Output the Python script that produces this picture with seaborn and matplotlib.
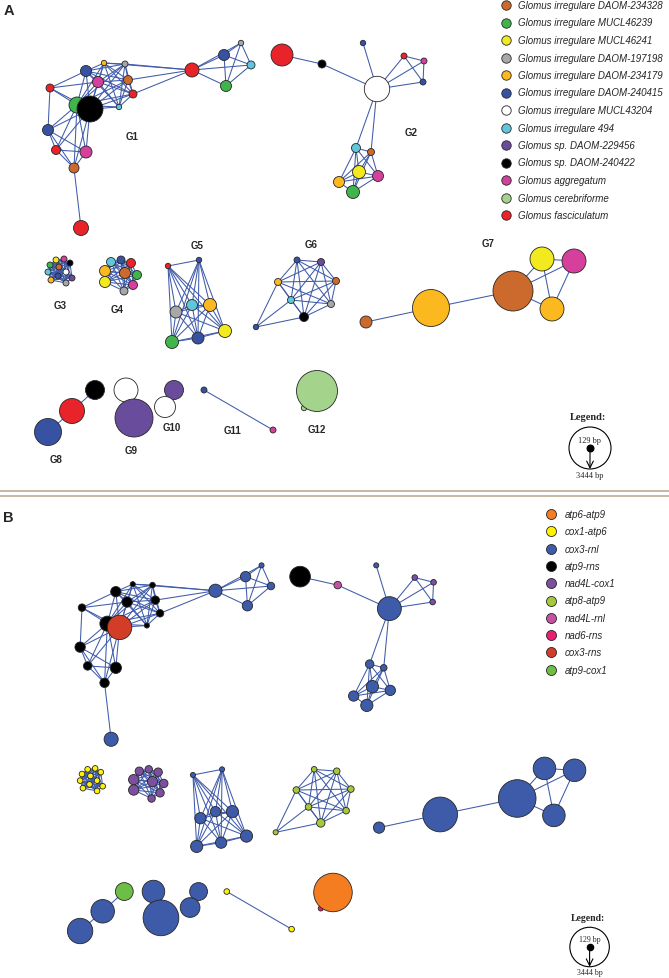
import numpy as np
import pandas as pd
import seaborn as sns
import matplotlib.pyplot as plt
from matplotlib.collections import LineCollection
from matplotlib.patches import Circle
from itertools import combinations

sns.set_theme(style='white')
plt.rcParams['font.family'] = ['Liberation Sans', 'DejaVu Sans']

# species (panel A colours)
species_keys = ['D234328', 'M46239', 'M46241', 'D197198', 'D234179', 'D240415', 'M43204',
                '494', 'D229456', 'D240422', 'agg', 'cer', 'fas']
species_labels = ['Glomus irregulare DAOM-234328', 'Glomus irregulare MUCL46239',
                  'Glomus irregulare MUCL46241', 'Glomus irregulare DAOM-197198',
                  'Glomus irregulare DAOM-234179', 'Glomus irregulare DAOM-240415',
                  'Glomus irregulare MUCL43204', 'Glomus irregulare 494',
                  'Glomus sp. DAOM-229456', 'Glomus sp. DAOM-240422',
                  'Glomus aggregatum', 'Glomus cerebriforme', 'Glomus fasciculatum']
species_colors = ['#CB6A2C', '#3FB54B', '#F2EA1E', '#A7A7A7', '#FBB81F', '#3852A3', '#FFFFFF',
                  '#5DC7DB', '#6A4C9C', '#000000', '#D63F9B', '#A4D38B', '#E8232A']

# intergenic regions (panel B colours)
region_labels = ['atp6-atp9', 'cox1-atp6', 'cox3-rnl', 'atp9-rns', 'nad4L-cox1',
                 'atp8-atp9', 'nad4L-rnl', 'nad6-rns', 'cox3-rns', 'atp9-cox1']
region_colors = ['#F47C21', '#FFF200', '#3D5BA9', '#000000', '#7D4F9F',
                 '#A5C93B', '#C751A1', '#EB1D73', '#D13D27', '#6CBE46']

# nodes, group by group (G1 .. G12)
node_x = [86, 104, 125, 98, 128, 133, 119, 50, 77, 90, 48, 56, 86, 74, 81, 192, 224, 241, 251, 226,
          282, 322, 377, 363, 404, 424, 423, 356, 371, 359, 378, 339, 353,
          56, 64, 70, 50, 59, 66, 48, 58, 72, 51, 66,
          111, 121, 131, 105, 125, 137, 105, 133, 124,
          168, 199, 192, 210, 176, 225, 198, 172,
          297, 321, 278, 336, 291, 331, 304, 256,
          366, 431, 513, 542, 574, 552,
          48, 72, 95,
          126, 134,
          174, 165,
          204, 273,
          304, 317]
node_y = [72, 64, 65, 83, 81, 95, 108, 89, 106, 110, 131, 151, 153, 169, 229, 71, 56, 44, 66, 87,
          56, 65, 90, 44, 57, 62, 83, 149, 153, 173, 177, 183, 193,
          261, 260, 264, 266, 268, 273, 273, 277, 279, 281, 284,
          263, 261, 264, 272, 274, 276, 283, 286, 292,
          267, 261, 306, 306, 313, 332, 339, 343,
          261, 263, 283, 282, 301, 305, 318, 328,
          323, 309, 292, 260, 262, 310,
          433, 412, 391,
          391, 419,
          391, 408,
          391, 431,
          409, 392]
node_bp = [636, 129, 183, 636, 455, 364, 129, 364, 1089, 1994, 636, 455, 727, 546, 998, 908, 636, 129, 364, 636,
           1632, 364, 1940, 129, 183, 183, 183, 455, 274, 817, 636, 636, 817,
           183, 183, 183, 183, 183, 183, 183, 183, 183, 183, 183,
           455, 364, 455, 636, 636, 455, 636, 455, 364,
           129, 129, 636, 817, 727, 817, 727, 817,
           183, 274, 274, 274, 274, 274, 455, 129,
           727, 2990, 3262, 1813, 1813, 1813,
           2085, 1904, 1360,
           1813, 3081,
           1360, 1541,
           183, 183,
           129, 3352]
node_species = ['D240415', 'D234179', 'D197198', 'agg', 'D234328', 'fas', '494', 'fas', 'M46239', 'D240422',
                'D240415', 'fas', 'agg', 'D234328', 'fas', 'fas', 'D240415', 'D197198', '494', 'M46239',
                'fas', 'D240422', 'M43204', 'D240415', 'fas', 'agg', 'D240415', '494', 'D234328', 'M46241',
                'agg', 'D234179', 'M46239',
                'M46241', 'agg', 'D240422', 'M46239', 'D234328', 'M43204', '494', 'D240415', 'D229456',
                'D234179', 'D197198',
                '494', 'D240415', 'fas', 'D234179', 'D234328', 'M46239', 'M46241', 'agg', 'D197198',
                'fas', 'D240415', '494', 'D234179', 'D197198', 'M46241', 'D240415', 'M46239',
                'D240415', 'D229456', 'D234179', 'D234328', '494', 'D197198', 'D240422', 'D240415',
                'D234328', 'D234179', 'D234328', 'M46241', 'agg', 'D234179',
                'D240415', 'fas', 'D240422',
                'M43204', 'D229456',
                'D229456', 'M43204',
                'D240415', 'agg',
                'cer', 'cer']
node_region = ['atp9-rns'] * 9 + ['cox3-rns'] + ['atp9-rns'] * 4 + ['cox3-rnl'] * 6 + \
              ['atp9-rns', 'nad4L-rnl', 'cox3-rnl', 'cox3-rnl'] + ['nad4L-cox1'] * 3 + ['cox3-rnl'] * 6 + \
              ['cox1-atp6'] * 11 + ['nad4L-cox1'] * 9 + ['cox3-rnl'] * 8 + ['atp8-atp9'] * 8 + \
              ['cox3-rnl'] * 6 + ['cox3-rnl', 'cox3-rnl', 'atp9-cox1'] + ['cox3-rnl'] * 4 + \
              ['cox1-atp6'] * 2 + ['nad6-rns', 'atp6-atp9']

# edges: fully linked sets plus single links
cliques = [[0, 1, 2, 3, 4, 5, 6, 8, 9], [8, 9, 10, 11, 12, 13], [15, 16, 17, 18, 19],
           [27, 28, 29, 30, 31, 32], list(range(33, 44)), list(range(44, 53)),
           list(range(53, 61)), list(range(61, 68)), [71, 72, 73, 74]]
single_edges = [(7, 0), (7, 3), (7, 8), (7, 9), (7, 10), (13, 14), (15, 1), (15, 2), (15, 4), (15, 5),
                (20, 21), (21, 22), (22, 23), (22, 24), (22, 25), (22, 26), (24, 25), (24, 26), (25, 26),
                (22, 27), (22, 28), (68, 63), (68, 65), (68, 67), (69, 70), (70, 71),
                (75, 76), (76, 77), (78, 79), (80, 81), (82, 83), (84, 85)]

group_names = ['G1', 'G2', 'G3', 'G4', 'G5', 'G6', 'G7', 'G8', 'G9', 'G10', 'G11', 'G12']
group_label_x = [132, 411, 60, 117, 197, 311, 488, 56, 131, 172, 233, 317]
group_label_y = [137, 133, 306, 310, 246, 245, 244, 460, 451, 428, 431, 430]

nodes = pd.DataFrame({'x': node_x, 'y': node_y, 'bp': node_bp,
                      'species': node_species, 'region': node_region})
edges = [e for c in cliques for e in combinations(c, 2)] + single_edges

species_pal = dict(zip(species_keys, species_colors))
region_pal = dict(zip(region_labels, region_colors))


def bp_radius(bp):
    # node radius (px) grows linearly from 129 bp to 3444 bp
    return 2.7 + (np.asarray(bp) - 129) / (3444 - 129) * 18.3


def draw_network(ax, hue, pal, scale):
    segs = [[(node_x[i], node_y[i]), (node_x[j], node_y[j])] for i, j in edges]
    ax.add_collection(LineCollection(segs, colors='#3F5BAA', linewidths=0.75, zorder=1))
    s = (2 * bp_radius(nodes['bp']) * 0.72 * scale) ** 2
    sns.scatterplot(data=nodes, x='x', y='y', hue=hue, palette=pal, s=s,
                    edgecolor='#262626', linewidth=0.6, legend=False, ax=ax, zorder=2, clip_on=False)


def draw_bp_legend(ax, cx, cy, scale):
    ax.text(cx - 2, cy - 31, 'Legend:', family='Liberation Serif', weight='bold',
            fontsize=7.5 * scale, ha='center', va='center')
    ax.add_patch(Circle((cx, cy), 21, facecolor='white', edgecolor='black', lw=0.8, zorder=3))
    ax.scatter([cx], [cy], s=(2 * 3.3 * 0.72 * scale) ** 2, color='black', zorder=5)
    ax.annotate('', xy=(cx, cy + 21), xytext=(cx, cy),
                arrowprops=dict(arrowstyle='->', color='black', lw=0.8, shrinkA=0, shrinkB=0), zorder=4)
    ax.text(cx, cy - 8, '129 bp', family='Liberation Serif', fontsize=6 * scale,
            ha='center', va='center', zorder=4)
    ax.text(cx, cy + 27, '3444 bp', family='Liberation Serif', fontsize=6 * scale,
            ha='center', va='center')


fig = plt.figure(figsize=(6.69, 9.79), dpi=100)

# panel A in pixel coordinates of the whole figure
axA = fig.add_axes([0, 0, 1, 1])
draw_network(axA, 'species', species_pal, 1.0)
axA.set_xlim(0, 669)
axA.set_ylim(979, 0)
axA.axis('off')

# panel B: same layout, drawn 0.94 times smaller and shifted down
sc = 0.94
bx0, bx1, by0, by1 = -30, 660, -40, 480
left, right = 35 + sc * bx0, 35 + sc * bx1
top, bottom = 525 + sc * by0, 525 + sc * by1
axB = fig.add_axes([left / 669, (979 - bottom) / 979, (right - left) / 669, (bottom - top) / 979])
draw_network(axB, 'region', region_pal, sc)
axB.set_xlim(bx0, bx1)
axB.set_ylim(by1, by0)
axB.axis('off')

# group labels
for name, gx, gy in zip(group_names, group_label_x, group_label_y):
    axA.text(gx, gy, name, fontsize=7, weight='bold', ha='center', va='center')

# species legend
for i, (lab, col) in enumerate(zip(species_labels, species_colors)):
    yy = 6 + 17.5 * i
    axA.scatter([506], [yy], s=46, color=col, edgecolor='#262626', linewidth=0.6, zorder=3)
    axA.text(518, yy, lab, fontsize=7, style='italic', ha='left', va='center')

# region legend
for i, (lab, col) in enumerate(zip(region_labels, region_colors)):
    yy = 515 + 17.3 * i
    axA.scatter([551], [yy], s=52, color=col, edgecolor='#262626', linewidth=0.6, zorder=3)
    axA.text(565, yy, lab, fontsize=7, style='italic', ha='left', va='center')

draw_bp_legend(axA, 590, 449, 1.0)
draw_bp_legend(axB, 590, 450, sc)

# separator and panel letters
axA.plot([0, 669], [492, 492], color='#C5B8A5', lw=1.4)
axA.plot([0, 669], [497, 497], color='#C5B8A5', lw=1.4)
axA.text(4, 11, 'A', fontsize=10.5, weight='bold', ha='left', va='center')
axA.text(3, 518, 'B', fontsize=10.5, weight='bold', ha='left', va='center')

fig.savefig('out.png', dpi=100)
